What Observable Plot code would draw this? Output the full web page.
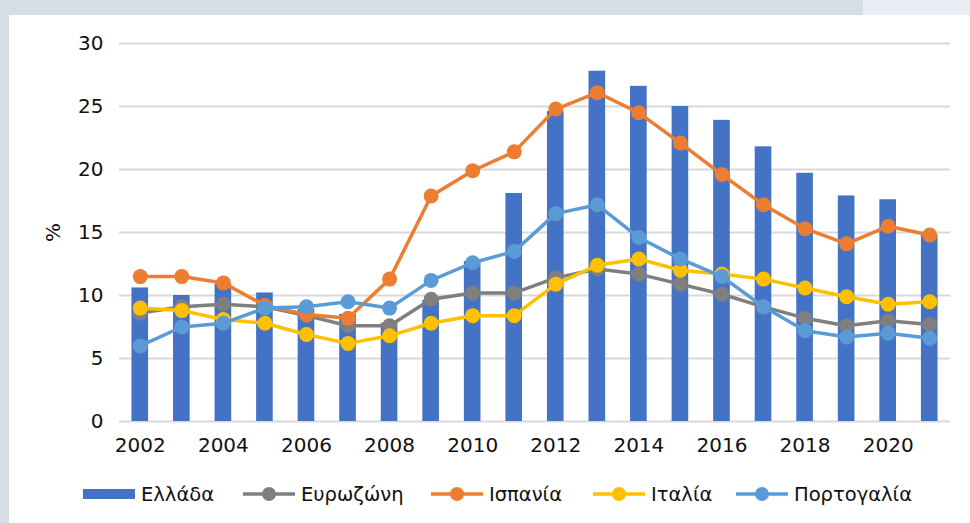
<!DOCTYPE html>
<html>
<head>
<meta charset="utf-8">
<script src="https://cdn.jsdelivr.net/npm/d3@7"></script>
<script src="https://cdn.jsdelivr.net/npm/@observablehq/plot@0.6"></script>
<style>
  html, body { margin: 0; padding: 0; background: #ffffff; }
  body { width: 970px; height: 523px; position: relative; overflow: hidden; font-family: "DejaVu Sans", sans-serif; }
  #bandTop { position: absolute; left: 0; top: 0; width: 863px; height: 15px; background: #d6dde4; }
  #bandTopR { position: absolute; left: 863px; top: 0; width: 107px; height: 15px; background: #e9eef6; }
  #bandLeft { position: absolute; left: 0; top: 0; width: 9px; height: 523px; background: #d6dde4; }
  #chart { position: absolute; left: 0; top: 0; }
  #legend { position: absolute; left: 0; top: 480px; width: 970px; height: 28px; }
  .item { position: absolute; top: 0; height: 28px; display: flex; align-items: center; font-size: 19.5px; color: #111; white-space: nowrap; }
  .item svg { margin-right: 6px; }
</style>
</head>
<body>
<div id="bandTop"></div>
<div id="bandTopR"></div>
<div id="bandLeft"></div>
<div id="chart"></div>
<div id="legend"></div>
<script>
const years = [2002,2003,2004,2005,2006,2007,2008,2009,2010,2011,2012,2013,2014,2015,2016,2017,2018,2019,2020,2021];
const greece   = [10.6,10.0,10.9,10.2,8.9,8.5,7.8,9.6,12.7,18.1,24.6,27.8,26.6,25.0,23.9,21.8,19.7,17.9,17.6,14.8];
const eurozone = [8.6,9.1,9.3,9.1,8.4,7.6,7.6,9.7,10.2,10.2,11.4,12.1,11.7,10.9,10.1,9.1,8.2,7.6,8.0,7.7];
const spain    = [11.5,11.5,11.0,9.2,8.5,8.2,11.3,17.9,19.9,21.4,24.8,26.1,24.5,22.1,19.6,17.2,15.3,14.1,15.5,14.8];
const italy    = [9.0,8.8,8.1,7.8,6.9,6.2,6.8,7.8,8.4,8.4,10.9,12.4,12.9,12.0,11.7,11.3,10.6,9.9,9.3,9.5];
const portugal = [6.0,7.5,7.8,9.0,9.1,9.5,9.0,11.2,12.6,13.5,16.5,17.2,14.6,12.9,11.5,9.1,7.2,6.7,7.0,6.6];
const yTicks = [0,5,10,15,20,25,30];
const xTickLabels = [2002,2004,2006,2008,2010,2012,2014,2016,2018,2020];

const seriesNames = ["Ελλάδα","Ευρωζώνη","Ισπανία","Ιταλία","Πορτογαλία"];
const colors = {"Ελλάδα":"#4472C4","Ευρωζώνη":"#7F7F7F","Ισπανία":"#ED7D31","Ιταλία":"#FFC000","Πορτογαλία":"#5B9BD5"};

const toRows = (vals) => years.map((y, i) => ({year: String(y), value: vals[i]}));
const greeceRows = toRows(greece);
const lineSeries = [
  ["Ευρωζώνη", eurozone],
  ["Ισπανία", spain],
  ["Ιταλία", italy],
  ["Πορτογαλία", portugal]
];

const marks = [
  Plot.gridY(yTicks, {stroke: "#d9d9d9", strokeWidth: 2, strokeOpacity: 1}),
  Plot.barY(greeceRows, {x: "year", y: "value", fill: colors["Ελλάδα"]})
];
for (const [name, vals] of lineSeries) {
  const rows = toRows(vals);
  marks.push(Plot.line(rows, {x: "year", y: "value", stroke: colors[name], strokeWidth: 3.5}));
  marks.push(Plot.dot(rows, {x: "year", y: "value", fill: colors[name], r: 7.5}));
}
marks.push(Plot.axisY(yTicks, {tickSize: 0, tickPadding: 16, fontSize: 20, label: "%", labelAnchor: "center", labelArrow: "none", labelOffset: 74}));
marks.push(Plot.axisX(xTickLabels.map(String), {tickSize: 0, tickPadding: 16, fontSize: 20, label: null}));

const chart = Plot.plot({
  width: 970,
  height: 470,
  marginLeft: 119,
  marginRight: 20,
  marginTop: 43,
  marginBottom: 49,
  style: {background: "transparent", fontFamily: "'DejaVu Sans', sans-serif", color: "#111"},
  x: {type: "band", domain: years.map(String), paddingInner: 0.6, paddingOuter: 0.3, round: false},
  y: {domain: [0, 30]},
  marks
});
document.getElementById("chart").appendChild(chart);

// legend
const legend = document.getElementById("legend");
const legendX = [83, 243, 431, 593, 736];
seriesNames.forEach((name, i) => {
  const div = document.createElement("div");
  div.className = "item";
  div.style.left = legendX[i] + "px";
  const ns = "http://www.w3.org/2000/svg";
  const s = document.createElementNS(ns, "svg");
  s.setAttribute("width", 52);
  s.setAttribute("height", 20);
  if (i === 0) {
    const r = document.createElementNS(ns, "rect");
    r.setAttribute("x", 0); r.setAttribute("y", 5); r.setAttribute("width", 52); r.setAttribute("height", 10);
    r.setAttribute("fill", colors[name]);
    s.appendChild(r);
  } else {
    const l = document.createElementNS(ns, "line");
    l.setAttribute("x1", 0); l.setAttribute("x2", 52); l.setAttribute("y1", 10); l.setAttribute("y2", 10);
    l.setAttribute("stroke", colors[name]); l.setAttribute("stroke-width", 3.5);
    s.appendChild(l);
    const c = document.createElementNS(ns, "circle");
    c.setAttribute("cx", 26); c.setAttribute("cy", 10); c.setAttribute("r", 7);
    c.setAttribute("fill", colors[name]);
    s.appendChild(c);
  }
  div.appendChild(s);
  const t = document.createElement("span");
  t.textContent = name;
  div.appendChild(t);
  legend.appendChild(div);
});
</script>
</body>
</html>
